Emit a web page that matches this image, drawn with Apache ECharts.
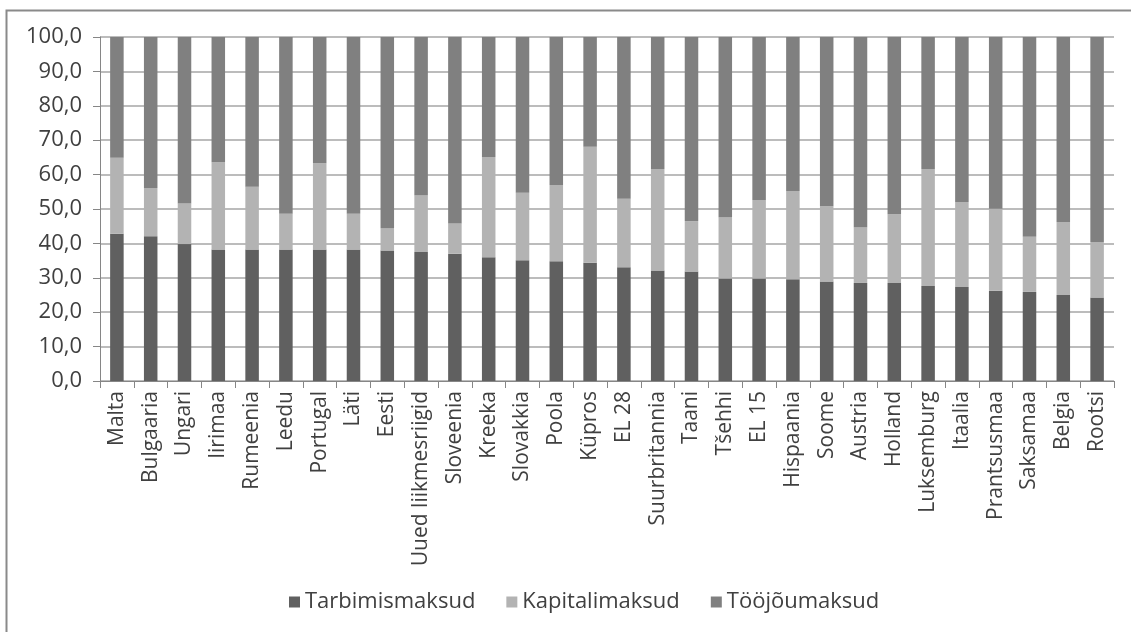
<!DOCTYPE html>
<html>
<head>
<meta charset="utf-8">
<script src="https://cdn.jsdelivr.net/npm/echarts@6/dist/echarts.min.js"></script>
<style>
  html, body { margin: 0; padding: 0; background: #fff; }
  #chart { width: 1131px; height: 632px; }
</style>
</head>
<body>
<div id="chart"></div>
<script>
// Maksustruktuur: tarbimis-, kapitali- ja tööjõumaksude osakaal (%)
const categories = [
  'Malta', 'Bulgaaria', 'Ungari', 'Iirimaa', 'Rumeenia', 'Leedu', 'Portugal', 'Läti', 'Eesti',
  'Uued liikmesriigid', 'Sloveenia', 'Kreeka', 'Slovakkia', 'Poola', 'Küpros', 'EL 28',
  'Suurbritannia', 'Taani', 'Tšehhi', 'EL 15', 'Hispaania', 'Soome', 'Austria', 'Holland',
  'Luksemburg', 'Itaalia', 'Prantsusmaa', 'Saksamaa', 'Belgia', 'Rootsi'
];

const tarbimismaksud = [
  42.8, 42.1, 39.8, 38.2, 38.2, 38.2, 38.2, 38.2, 37.9,
  37.5, 37.0, 36.0, 35.1, 34.8, 34.4, 33.1,
  32.1, 31.8, 29.8, 29.8, 29.6, 28.9, 28.5, 28.5,
  27.6, 27.3, 26.2, 25.9, 25.0, 24.3
];

const kapitalimaksud = [
  22.1, 14.0, 11.8, 25.4, 18.3, 10.4, 25.1, 10.4, 6.4,
  16.4, 8.8, 29.1, 19.6, 22.2, 33.7, 19.9,
  29.5, 14.7, 17.7, 22.8, 25.6, 21.9, 16.1, 20.0,
  34.0, 24.7, 23.9, 16.0, 21.2, 16.1
];

const toojoumaksud = [
  35.1, 43.9, 48.4, 36.4, 43.5, 51.4, 36.7, 51.4, 55.7,
  46.1, 54.2, 34.9, 45.3, 43.0, 31.9, 47.0,
  38.4, 53.5, 52.5, 47.4, 44.8, 49.2, 55.4, 51.5,
  38.4, 48.0, 49.9, 58.1, 53.8, 59.6
];

const yTicks = { min: 0, max: 100, interval: 10 };

const font = '"Open Sans", Lato, sans-serif';
const textColor = '#404040';

const chart = echarts.init(document.getElementById('chart'), null, { renderer: 'canvas' });

function barSeries(name, data, color) {
  return {
    name: name,
    type: 'bar',
    stack: 'total',
    data: data,
    barWidth: '40%',
    itemStyle: { color: color },
    emphasis: { disabled: true }
  };
}

chart.setOption({
  animation: false,
  backgroundColor: '#ffffff',
  graphic: [{
    type: 'rect',
    shape: { x: 6.5, y: 10.5, width: 1200, height: 700 },
    style: { fill: 'none', stroke: '#8a8a8a', lineWidth: 2 },
    silent: true,
    z: -1
  }],
  grid: { left: 100, right: 17, top: 37, bottom: 251, containLabel: false },
  legend: {
    bottom: 14,
    left: 284,
    itemWidth: 11,
    itemHeight: 11,
    itemGap: 31,
    icon: 'rect',
    textStyle: { fontFamily: font, fontSize: 22, color: textColor },
    data: ['Tarbimismaksud', 'Kapitalimaksud', 'Tööjõumaksud']
  },
  xAxis: {
    type: 'category',
    data: categories,
    boundaryGap: true,
    axisLine: { lineStyle: { color: '#868686', width: 1 } },
    axisTick: { show: true, length: 7, lineStyle: { color: '#868686' } },
    axisLabel: {
      rotate: 90,
      interval: 0,
      margin: 10,
      fontFamily: font,
      fontSize: 21,
      color: textColor
    }
  },
  yAxis: {
    type: 'value',
    min: yTicks.min,
    max: yTicks.max,
    interval: yTicks.interval,
    axisLine: { show: true, lineStyle: { color: '#868686', width: 1 } },
    axisTick: { show: true, length: 7, lineStyle: { color: '#868686' } },
    splitLine: { show: true, lineStyle: { color: '#a6a6a6', width: 1.5 } },
    axisLabel: {
      margin: 18,
      fontFamily: font,
      fontSize: 22,
      color: textColor,
      formatter: v => v.toFixed(1).replace('.', ',')
    }
  },
  series: [
    barSeries('Tarbimismaksud', tarbimismaksud, '#606060'),
    barSeries('Kapitalimaksud', kapitalimaksud, '#b3b3b3'),
    barSeries('Tööjõumaksud', toojoumaksud, '#808080')
  ]
});
</script>
</body>
</html>
